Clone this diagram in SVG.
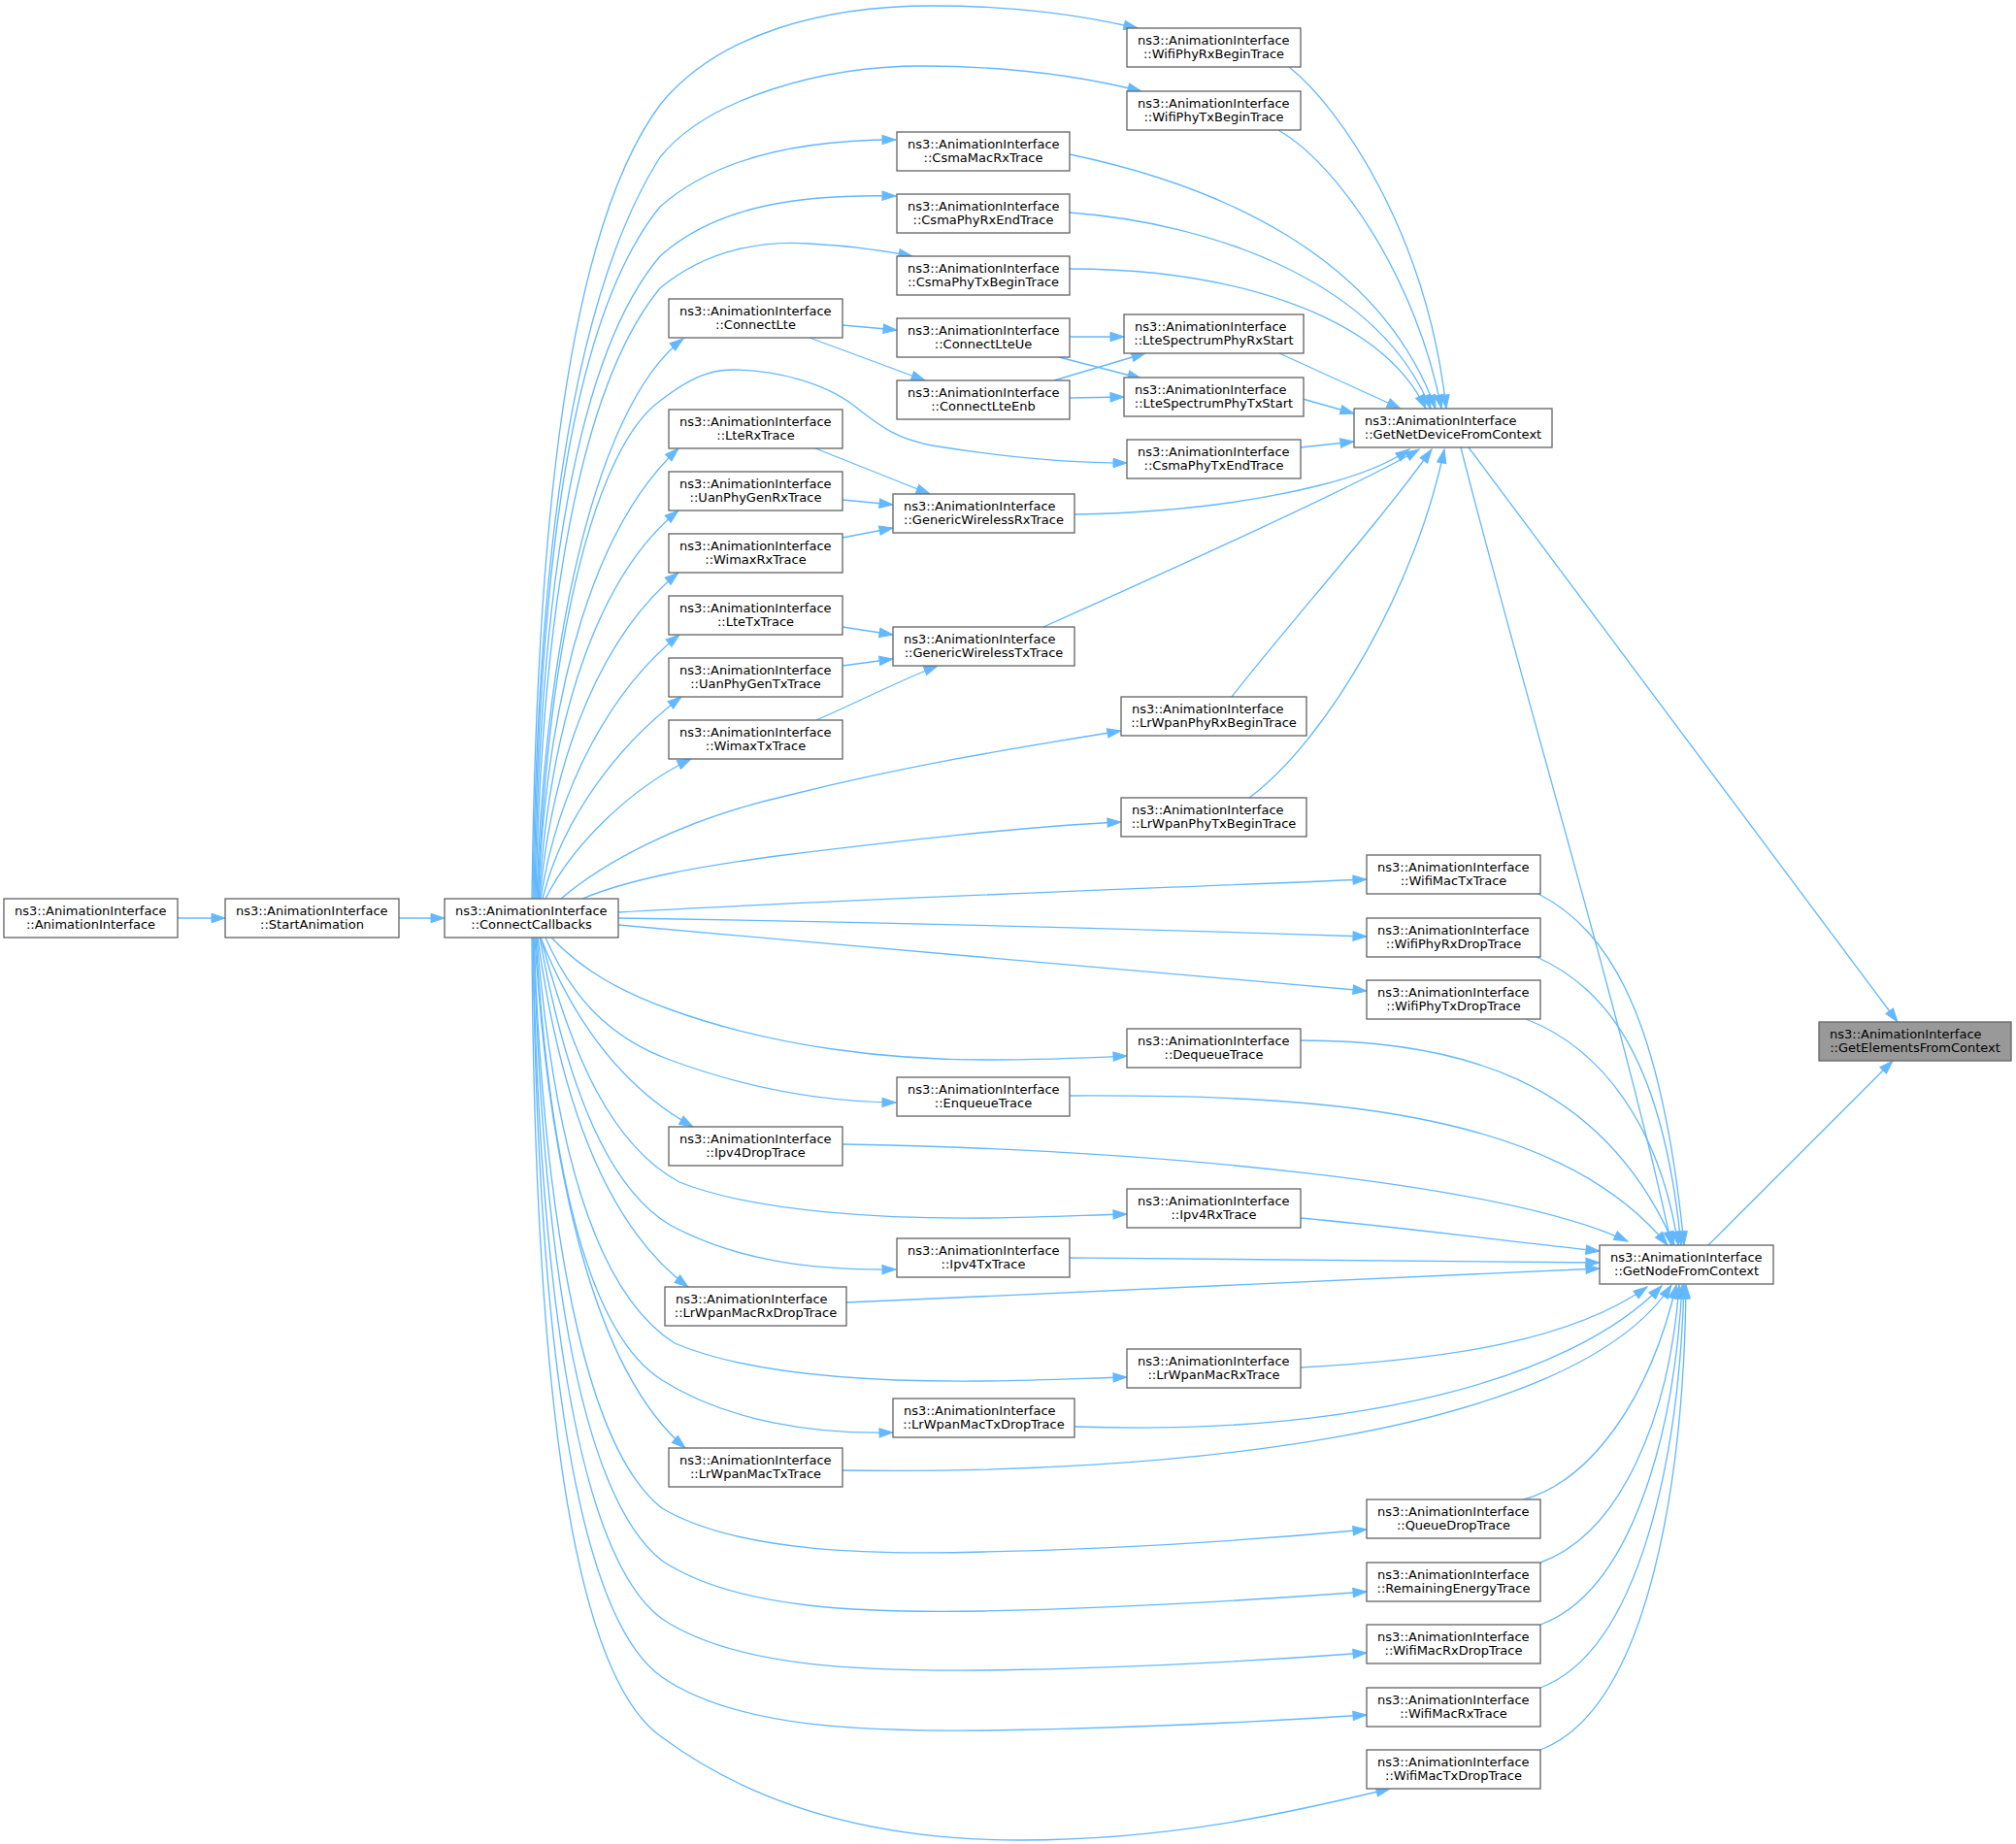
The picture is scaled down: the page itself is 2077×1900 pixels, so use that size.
<svg xmlns="http://www.w3.org/2000/svg" width="2077" height="1900" viewBox="0 0 2077 1900">
<style>
.node rect{fill:#ffffff;stroke:#666666;stroke-width:1.33}
.node.hl rect{fill:#999999}
text{font-family:"DejaVu Sans","Liberation Sans",sans-serif;font-size:13px;fill:#000000}
.m{text-anchor:middle}
.edges path{fill:none;stroke:#63b8ff;stroke-width:1.33;marker-end:url(#arr)}
</style>
<defs>
<marker id="arr" markerUnits="userSpaceOnUse" markerWidth="16" markerHeight="12" refX="14" refY="5" orient="auto" overflow="visible">
<path d="M0,0.3 L14,5 L0,9.7 z" fill="#63b8ff" stroke="#63b8ff" stroke-width="1"/>
</marker>
</defs>
<rect x="0" y="0" width="2077" height="1900" fill="#ffffff"/>
<g class="edges" id="connectors">
<path d="M183,946 L232,946"/>
<path d="M411,946 L458,946"/>
<path d="M548,926 C552,600 575,250 680,108 C740,34 850,6 960,6 C1050,6 1115,16 1172,29"/>
<path d="M549,926 C553,620 580,320 680,162 C730,100 850,68 950,68 C1050,68 1120,80 1176,94"/>
<path d="M550,926 C555,600 585,330 680,213 C740,160 830,144 923,144"/>
<path d="M551,926 C556,620 590,370 680,264 C740,210 830,200 923,202"/>
<path d="M552,926 C558,640 595,400 680,297 C730,255 790,248 833,251 C870,253 905,257 940,264"/>
<path d="M553,926 C560,680 610,420 704,349"/>
<path d="M554,926 C565,650 615,460 680,413 C710,390 730,381 755,381 C800,381 850,395 880,418 C910,442 925,452 960,459 C1040,472 1100,477 1161,477"/>
<path d="M554,926 C565,700 615,540 699,462"/>
<path d="M555,926 C568,730 620,590 699,526"/>
<path d="M556,926 C570,770 625,650 699,590"/>
<path d="M557,926 C575,810 630,710 700,654"/>
<path d="M559,926 C580,840 640,765 702,718"/>
<path d="M562,926 C590,870 650,812 712,782"/>
<path d="M578,926 C620,890 700,845 810,820 C950,785 1070,767 1155,753"/>
<path d="M600,926 C650,905 720,893 800,882 C930,866 1050,852 1155,847"/>
<path d="M637,940 C900,925 1200,915 1408,906"/>
<path d="M637,946 C900,950 1200,958 1408,965"/>
<path d="M637,953 C900,977 1200,1002 1408,1021"/>
<path d="M568,966 C600,1000 640,1022 690,1040 C800,1080 920,1092 1014,1092 C1080,1092 1120,1090 1161,1088"/>
<path d="M562,966 C590,1030 630,1070 690,1092 C760,1118 840,1135 923,1136"/>
<path d="M557,966 C590,1050 640,1120 714,1161"/>
<path d="M557,966 C590,1090 630,1180 700,1218 C780,1250 920,1256 1014,1255 C1080,1254 1120,1252 1161,1251"/>
<path d="M556,966 C580,1100 620,1220 690,1262 C760,1300 840,1309 923,1308"/>
<path d="M554,966 C575,1120 620,1260 709,1326"/>
<path d="M553,966 C570,1170 610,1330 695,1384 C780,1420 920,1424 1014,1423 C1080,1422 1120,1420 1161,1419"/>
<path d="M552,966 C565,1180 600,1370 682,1422 C750,1465 840,1478 920,1476"/>
<path d="M551,966 C565,1200 610,1410 706,1492"/>
<path d="M550,966 C560,1250 600,1490 682,1554 C760,1600 900,1602 1014,1599 C1150,1596 1300,1586 1408,1576"/>
<path d="M550,966 C558,1280 595,1540 682,1608 C760,1660 900,1662 1014,1660 C1150,1657 1300,1648 1408,1640"/>
<path d="M549,966 C555,1300 590,1600 682,1668 C760,1720 900,1722 1014,1721 C1150,1719 1300,1711 1408,1703"/>
<path d="M549,966 C553,1330 585,1660 682,1728 C760,1782 900,1784 1014,1783 C1150,1781 1300,1774 1408,1767"/>
<path d="M548,966 C550,1370 580,1720 682,1790 C790,1870 920,1896 1052,1896 C1200,1896 1320,1870 1432,1843"/>
<path d="M868,335 L924,340"/>
<path d="M834,348 L953,392"/>
<path d="M1102,347 L1158,347"/>
<path d="M1091,368 L1176,390"/>
<path d="M1086,392 L1180,364"/>
<path d="M1102,410 L1158,409"/>
<path d="M840,462 L958,509"/>
<path d="M868,515 L920,520"/>
<path d="M868,554 L920,544"/>
<path d="M868,646 L920,654"/>
<path d="M868,686 L920,679"/>
<path d="M841,742 C880,725 930,700 966,686"/>
<path d="M1328,69 C1380,110 1470,240 1490,421"/>
<path d="M1317,134 C1380,170 1460,290 1485,421"/>
<path d="M1102,159 C1250,190 1420,260 1479,421"/>
<path d="M1102,219 C1250,230 1420,290 1474,421"/>
<path d="M1102,277 C1260,277 1420,320 1469,421"/>
<path d="M1318,364 L1443,421"/>
<path d="M1342,411 L1395,426"/>
<path d="M1340,461 L1395,455"/>
<path d="M1107,530 C1220,528 1300,515 1360,500 C1400,490 1430,478 1452,463"/>
<path d="M1075,646 C1200,590 1400,500 1462,463"/>
<path d="M1269,718 C1330,640 1420,540 1475,463"/>
<path d="M1287,822 C1370,760 1460,600 1488,463"/>
<path d="M1513,461 L1955,1053"/>
<path d="M1505,461 C1560,680 1680,1080 1722,1283"/>
<path d="M1760,1283 L1950,1093"/>
<path d="M1585,921 C1660,960 1712,1050 1735,1283"/>
<path d="M1583,986 C1660,1020 1714,1100 1732,1283"/>
<path d="M1572,1050 C1650,1080 1710,1160 1729,1283"/>
<path d="M1340,1072 C1500,1072 1650,1110 1725,1283"/>
<path d="M1102,1129 C1350,1128 1600,1140 1718,1283"/>
<path d="M868,1179 C1200,1185 1550,1220 1677,1279"/>
<path d="M1340,1255 C1450,1265 1560,1280 1648,1289"/>
<path d="M1102,1296 C1300,1297 1500,1300 1648,1301"/>
<path d="M872,1342 C1150,1330 1450,1315 1648,1307"/>
<path d="M1340,1409 C1500,1400 1620,1380 1697,1326"/>
<path d="M1107,1470 C1400,1480 1620,1420 1712,1325"/>
<path d="M868,1515 C1200,1520 1620,1480 1722,1324"/>
<path d="M1570,1545 C1640,1525 1700,1440 1727,1324"/>
<path d="M1587,1610 C1670,1580 1720,1460 1730,1324"/>
<path d="M1587,1674 C1680,1640 1725,1480 1733,1324"/>
<path d="M1587,1739 C1690,1700 1730,1500 1735,1324"/>
<path d="M1587,1803 C1700,1760 1735,1520 1737,1324"/>
</g>
<g id="n_GetElementsFromContext" class="node hl"><rect x="1874" y="1053" width="198" height="40"/><text x="1885" y="1070">ns3::AnimationInterface</text><text class="m" x="1973" y="1084">::GetElementsFromContext</text></g>
<g id="n_GetNodeFromContext" class="node"><rect x="1648" y="1283" width="179" height="40"/><text x="1659" y="1300">ns3::AnimationInterface</text><text class="m" x="1737.5" y="1314">::GetNodeFromContext</text></g>
<g id="n_GetNetDeviceFromContext" class="node"><rect x="1395" y="421" width="204" height="40"/><text x="1406" y="438">ns3::AnimationInterface</text><text class="m" x="1497" y="452">::GetNetDeviceFromContext</text></g>
<g id="n_WifiMacTxTrace" class="node"><rect x="1408" y="881" width="179" height="40"/><text x="1419" y="898">ns3::AnimationInterface</text><text class="m" x="1497.5" y="912">::WifiMacTxTrace</text></g>
<g id="n_WifiPhyRxDropTrace" class="node"><rect x="1408" y="946" width="179" height="40"/><text x="1419" y="963">ns3::AnimationInterface</text><text class="m" x="1497.5" y="977">::WifiPhyRxDropTrace</text></g>
<g id="n_WifiPhyTxDropTrace" class="node"><rect x="1408" y="1010" width="179" height="40"/><text x="1419" y="1027">ns3::AnimationInterface</text><text class="m" x="1497.5" y="1041">::WifiPhyTxDropTrace</text></g>
<g id="n_QueueDropTrace" class="node"><rect x="1408" y="1545" width="179" height="40"/><text x="1419" y="1562">ns3::AnimationInterface</text><text class="m" x="1497.5" y="1576">::QueueDropTrace</text></g>
<g id="n_RemainingEnergyTrace" class="node"><rect x="1408" y="1610" width="179" height="40"/><text x="1419" y="1627">ns3::AnimationInterface</text><text class="m" x="1497.5" y="1641">::RemainingEnergyTrace</text></g>
<g id="n_WifiMacRxDropTrace" class="node"><rect x="1408" y="1674" width="179" height="40"/><text x="1419" y="1691">ns3::AnimationInterface</text><text class="m" x="1497.5" y="1705">::WifiMacRxDropTrace</text></g>
<g id="n_WifiMacRxTrace" class="node"><rect x="1408" y="1739" width="179" height="40"/><text x="1419" y="1756">ns3::AnimationInterface</text><text class="m" x="1497.5" y="1770">::WifiMacRxTrace</text></g>
<g id="n_WifiMacTxDropTrace" class="node"><rect x="1408" y="1803" width="179" height="40"/><text x="1419" y="1820">ns3::AnimationInterface</text><text class="m" x="1497.5" y="1834">::WifiMacTxDropTrace</text></g>
<g id="n_WifiPhyRxBeginTrace" class="node"><rect x="1161" y="29" width="179" height="40"/><text x="1172" y="46">ns3::AnimationInterface</text><text class="m" x="1250.5" y="60">::WifiPhyRxBeginTrace</text></g>
<g id="n_WifiPhyTxBeginTrace" class="node"><rect x="1161" y="94" width="179" height="40"/><text x="1172" y="111">ns3::AnimationInterface</text><text class="m" x="1250.5" y="125">::WifiPhyTxBeginTrace</text></g>
<g id="n_LteSpectrumPhyRxStart" class="node"><rect x="1158" y="324" width="185" height="40"/><text x="1169" y="341">ns3::AnimationInterface</text><text class="m" x="1250.5" y="355">::LteSpectrumPhyRxStart</text></g>
<g id="n_LteSpectrumPhyTxStart" class="node"><rect x="1158" y="389" width="185" height="40"/><text x="1169" y="406">ns3::AnimationInterface</text><text class="m" x="1250.5" y="420">::LteSpectrumPhyTxStart</text></g>
<g id="n_CsmaPhyTxEndTrace" class="node"><rect x="1161" y="453" width="179" height="40"/><text x="1172" y="470">ns3::AnimationInterface</text><text class="m" x="1250.5" y="484">::CsmaPhyTxEndTrace</text></g>
<g id="n_LrWpanPhyRxBeginTrace" class="node"><rect x="1155" y="718" width="191" height="40"/><text x="1166" y="735">ns3::AnimationInterface</text><text class="m" x="1250.5" y="749">::LrWpanPhyRxBeginTrace</text></g>
<g id="n_LrWpanPhyTxBeginTrace" class="node"><rect x="1155" y="822" width="191" height="40"/><text x="1166" y="839">ns3::AnimationInterface</text><text class="m" x="1250.5" y="853">::LrWpanPhyTxBeginTrace</text></g>
<g id="n_DequeueTrace" class="node"><rect x="1161" y="1060" width="179" height="40"/><text x="1172" y="1077">ns3::AnimationInterface</text><text class="m" x="1250.5" y="1091">::DequeueTrace</text></g>
<g id="n_Ipv4RxTrace" class="node"><rect x="1161" y="1225" width="179" height="40"/><text x="1172" y="1242">ns3::AnimationInterface</text><text class="m" x="1250.5" y="1256">::Ipv4RxTrace</text></g>
<g id="n_LrWpanMacRxTrace" class="node"><rect x="1161" y="1390" width="179" height="40"/><text x="1172" y="1407">ns3::AnimationInterface</text><text class="m" x="1250.5" y="1421">::LrWpanMacRxTrace</text></g>
<g id="n_CsmaMacRxTrace" class="node"><rect x="924" y="136" width="178" height="40"/><text x="935" y="153">ns3::AnimationInterface</text><text class="m" x="1013" y="167">::CsmaMacRxTrace</text></g>
<g id="n_CsmaPhyRxEndTrace" class="node"><rect x="924" y="200" width="178" height="40"/><text x="935" y="217">ns3::AnimationInterface</text><text class="m" x="1013" y="231">::CsmaPhyRxEndTrace</text></g>
<g id="n_CsmaPhyTxBeginTrace" class="node"><rect x="924" y="264" width="178" height="40"/><text x="935" y="281">ns3::AnimationInterface</text><text class="m" x="1013" y="295">::CsmaPhyTxBeginTrace</text></g>
<g id="n_ConnectLteUe" class="node"><rect x="924" y="328" width="178" height="40"/><text x="935" y="345">ns3::AnimationInterface</text><text class="m" x="1013" y="359">::ConnectLteUe</text></g>
<g id="n_ConnectLteEnb" class="node"><rect x="924" y="392" width="178" height="40"/><text x="935" y="409">ns3::AnimationInterface</text><text class="m" x="1013" y="423">::ConnectLteEnb</text></g>
<g id="n_GenericWirelessRxTrace" class="node"><rect x="920" y="509" width="187" height="40"/><text x="931" y="526">ns3::AnimationInterface</text><text class="m" x="1013.5" y="540">::GenericWirelessRxTrace</text></g>
<g id="n_GenericWirelessTxTrace" class="node"><rect x="920" y="646" width="187" height="40"/><text x="931" y="663">ns3::AnimationInterface</text><text class="m" x="1013.5" y="677">::GenericWirelessTxTrace</text></g>
<g id="n_EnqueueTrace" class="node"><rect x="924" y="1110" width="178" height="40"/><text x="935" y="1127">ns3::AnimationInterface</text><text class="m" x="1013" y="1141">::EnqueueTrace</text></g>
<g id="n_Ipv4TxTrace" class="node"><rect x="924" y="1276" width="178" height="40"/><text x="935" y="1293">ns3::AnimationInterface</text><text class="m" x="1013" y="1307">::Ipv4TxTrace</text></g>
<g id="n_LrWpanMacTxDropTrace" class="node"><rect x="920" y="1441" width="187" height="40"/><text x="931" y="1458">ns3::AnimationInterface</text><text class="m" x="1013.5" y="1472">::LrWpanMacTxDropTrace</text></g>
<g id="n_ConnectLte" class="node"><rect x="689" y="308" width="179" height="40"/><text x="700" y="325">ns3::AnimationInterface</text><text class="m" x="778.5" y="339">::ConnectLte</text></g>
<g id="n_LteRxTrace" class="node"><rect x="689" y="422" width="179" height="40"/><text x="700" y="439">ns3::AnimationInterface</text><text class="m" x="778.5" y="453">::LteRxTrace</text></g>
<g id="n_UanPhyGenRxTrace" class="node"><rect x="689" y="486" width="179" height="40"/><text x="700" y="503">ns3::AnimationInterface</text><text class="m" x="778.5" y="517">::UanPhyGenRxTrace</text></g>
<g id="n_WimaxRxTrace" class="node"><rect x="689" y="550" width="179" height="40"/><text x="700" y="567">ns3::AnimationInterface</text><text class="m" x="778.5" y="581">::WimaxRxTrace</text></g>
<g id="n_LteTxTrace" class="node"><rect x="689" y="614" width="179" height="40"/><text x="700" y="631">ns3::AnimationInterface</text><text class="m" x="778.5" y="645">::LteTxTrace</text></g>
<g id="n_UanPhyGenTxTrace" class="node"><rect x="689" y="678" width="179" height="40"/><text x="700" y="695">ns3::AnimationInterface</text><text class="m" x="778.5" y="709">::UanPhyGenTxTrace</text></g>
<g id="n_WimaxTxTrace" class="node"><rect x="689" y="742" width="179" height="40"/><text x="700" y="759">ns3::AnimationInterface</text><text class="m" x="778.5" y="773">::WimaxTxTrace</text></g>
<g id="n_Ipv4DropTrace" class="node"><rect x="689" y="1161" width="179" height="40"/><text x="700" y="1178">ns3::AnimationInterface</text><text class="m" x="778.5" y="1192">::Ipv4DropTrace</text></g>
<g id="n_LrWpanMacRxDropTrace" class="node"><rect x="685" y="1326" width="187" height="40"/><text x="696" y="1343">ns3::AnimationInterface</text><text class="m" x="778.5" y="1357">::LrWpanMacRxDropTrace</text></g>
<g id="n_LrWpanMacTxTrace" class="node"><rect x="689" y="1492" width="179" height="40"/><text x="700" y="1509">ns3::AnimationInterface</text><text class="m" x="778.5" y="1523">::LrWpanMacTxTrace</text></g>
<g id="n_ConnectCallbacks" class="node"><rect x="458" y="926" width="179" height="40"/><text x="469" y="943">ns3::AnimationInterface</text><text class="m" x="547.5" y="957">::ConnectCallbacks</text></g>
<g id="n_StartAnimation" class="node"><rect x="232" y="926" width="179" height="40"/><text x="243" y="943">ns3::AnimationInterface</text><text class="m" x="321.5" y="957">::StartAnimation</text></g>
<g id="n_AnimationInterface" class="node"><rect x="4" y="926" width="179" height="40"/><text x="15" y="943">ns3::AnimationInterface</text><text class="m" x="93.5" y="957">::AnimationInterface</text></g>
</svg>
